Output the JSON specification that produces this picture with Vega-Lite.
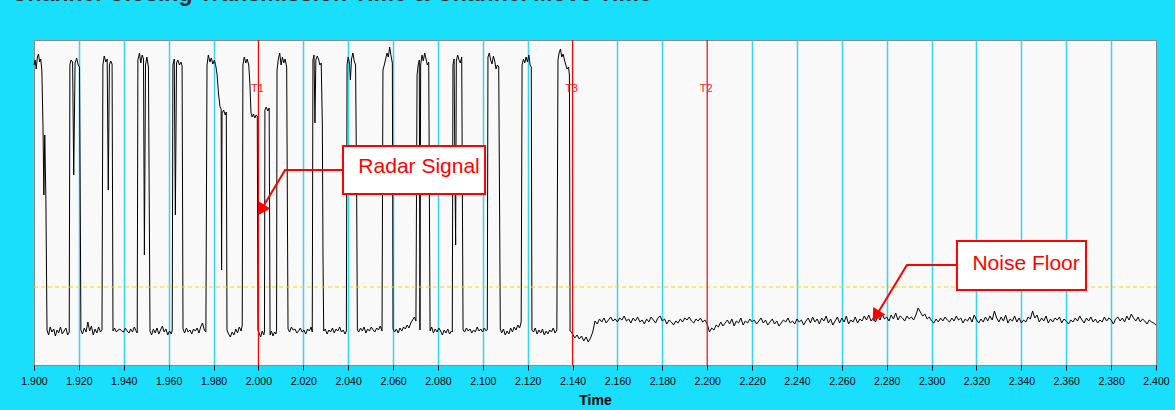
{
"$schema":"https://vega.github.io/schema/vega-lite/v6.json",
"width":1122,"height":325,
"autosize":{"type":"none"},
"padding":{"left":34,"top":40,"right":19,"bottom":45},
"background":"#19dffd",
"title":{"text":"Channel Closing Transmission Time & Channel Move Time","anchor":"start","frame":"group","font":"Liberation Sans","fontSize":23,"fontWeight":"bold","color":"#333333","baseline":"alphabetic","offset":15,"dx":-23},
"config":{"view":{"fill":"#f9f9f9","stroke":"#8a8a8a","strokeWidth":1},"font":"Liberation Sans"},
"datasets":{
"signal":[
{"t":1.9000,"v":300},{"t":1.9005,"v":305},{"t":1.9010,"v":296},{"t":1.9015,"v":308},{"t":1.9020,"v":311},{"t":1.9025,"v":303},{"t":1.9030,"v":306},{"t":1.9035,"v":295},{"t":1.9040,"v":240},{"t":1.9044,"v":170},{"t":1.9048,"v":230},{"t":1.9053,"v":165},{"t":1.9058,"v":35},
{"t":1.9065,"v":30},{"t":1.9072,"v":38},{"t":1.9080,"v":33},{"t":1.9088,"v":36},{"t":1.9095,"v":29},{"t":1.9103,"v":35},{"t":1.9110,"v":32},{"t":1.9118,"v":38},{"t":1.9126,"v":31},{"t":1.9134,"v":34},{"t":1.9142,"v":37},{"t":1.9150,"v":30},{"t":1.9157,"v":33},
{"t":1.9160,"v":300},{"t":1.9165,"v":305},{"t":1.9172,"v":303},{"t":1.9177,"v":190},{"t":1.9183,"v":302},{"t":1.9190,"v":307},{"t":1.9197,"v":300},{"t":1.9203,"v":298},{"t":1.9209,"v":35},
{"t":1.9216,"v":31},{"t":1.9224,"v":37},{"t":1.9232,"v":33},{"t":1.9240,"v":43},{"t":1.9248,"v":34},{"t":1.9256,"v":39},{"t":1.9264,"v":30},{"t":1.9272,"v":36},{"t":1.9280,"v":32},{"t":1.9288,"v":38},{"t":1.9296,"v":33},{"t":1.9303,"v":35},
{"t":1.9307,"v":300},{"t":1.9313,"v":309},{"t":1.9320,"v":303},{"t":1.9326,"v":306},{"t":1.9331,"v":175},{"t":1.9336,"v":300},{"t":1.9342,"v":304},{"t":1.9348,"v":301},{"t":1.9352,"v":34},
{"t":1.9359,"v":37},{"t":1.9367,"v":33},{"t":1.9375,"v":35},{"t":1.9383,"v":36},{"t":1.9391,"v":34},{"t":1.9399,"v":33},{"t":1.9407,"v":37},{"t":1.9415,"v":34},{"t":1.9423,"v":32},{"t":1.9431,"v":36},{"t":1.9439,"v":33},{"t":1.9447,"v":38},{"t":1.9455,"v":34},{"t":1.9460,"v":32},
{"t":1.9463,"v":305},{"t":1.9470,"v":312},{"t":1.9476,"v":302},{"t":1.9482,"v":310},{"t":1.9488,"v":306},{"t":1.9492,"v":110},{"t":1.9497,"v":300},{"t":1.9503,"v":308},{"t":1.9510,"v":298},{"t":1.9517,"v":34},
{"t":1.9524,"v":30},{"t":1.9532,"v":36},{"t":1.9540,"v":32},{"t":1.9548,"v":37},{"t":1.9556,"v":31},{"t":1.9564,"v":35},{"t":1.9572,"v":39},{"t":1.9580,"v":33},{"t":1.9588,"v":36},{"t":1.9596,"v":30},{"t":1.9604,"v":34},{"t":1.9612,"v":31},{"t":1.9616,"v":35},
{"t":1.9619,"v":300},{"t":1.9625,"v":306},{"t":1.9630,"v":150},{"t":1.9635,"v":302},{"t":1.9641,"v":305},{"t":1.9648,"v":300},{"t":1.9655,"v":303},{"t":1.9660,"v":299},{"t":1.9664,"v":36},
{"t":1.9671,"v":32},{"t":1.9679,"v":37},{"t":1.9687,"v":33},{"t":1.9695,"v":35},{"t":1.9703,"v":31},{"t":1.9711,"v":36},{"t":1.9719,"v":34},{"t":1.9727,"v":37},{"t":1.9735,"v":32},{"t":1.9743,"v":38},{"t":1.9751,"v":42},{"t":1.9759,"v":35},{"t":1.9766,"v":33},
{"t":1.9771,"v":300},{"t":1.9777,"v":310},{"t":1.9784,"v":303},{"t":1.9790,"v":307},{"t":1.9797,"v":301},{"t":1.9804,"v":305},{"t":1.9811,"v":298},{"t":1.9816,"v":290},{"t":1.9822,"v":272},{"t":1.9829,"v":258},{"t":1.9834,"v":256},{"t":1.9836,"v":95},{"t":1.9838,"v":252},{"t":1.9845,"v":255},{"t":1.9852,"v":250},{"t":1.9857,"v":253},{"t":1.9860,"v":35},
{"t":1.9867,"v":31},{"t":1.9875,"v":28},{"t":1.9883,"v":33},{"t":1.9891,"v":30},{"t":1.9899,"v":36},{"t":1.9907,"v":32},{"t":1.9915,"v":38},{"t":1.9923,"v":34},{"t":1.9928,"v":40},
{"t":1.9931,"v":300},{"t":1.9937,"v":308},{"t":1.9944,"v":302},{"t":1.9950,"v":306},{"t":1.9957,"v":300},{"t":1.9962,"v":282},{"t":1.9967,"v":252},{"t":1.9972,"v":248},{"t":1.9978,"v":251},{"t":1.9984,"v":247},{"t":1.9990,"v":250},{"t":1.9995,"v":249},{"t":1.9998,"v":35},
{"t":2.0003,"v":32},{"t":2.0010,"v":28},{"t":2.0017,"v":34},{"t":2.0024,"v":30},{"t":2.0027,"v":33},
{"t":2.0029,"v":255},{"t":2.0035,"v":258},{"t":2.0042,"v":254},{"t":2.0048,"v":257},{"t":2.0052,"v":30},
{"t":2.0058,"v":34},{"t":2.0065,"v":29},{"t":2.0072,"v":33},{"t":2.0078,"v":31},{"t":2.0081,"v":35},
{"t":2.0083,"v":295},{"t":2.0089,"v":306},{"t":2.0095,"v":312},{"t":2.0101,"v":300},{"t":2.0107,"v":308},{"t":2.0113,"v":302},{"t":2.0119,"v":306},{"t":2.0126,"v":298},{"t":2.0132,"v":36},
{"t":2.0139,"v":33},{"t":2.0147,"v":38},{"t":2.0155,"v":35},{"t":2.0163,"v":36},{"t":2.0171,"v":32},{"t":2.0179,"v":34},{"t":2.0187,"v":37},{"t":2.0195,"v":33},{"t":2.0203,"v":35},{"t":2.0211,"v":31},{"t":2.0219,"v":36},{"t":2.0227,"v":34},{"t":2.0235,"v":38},{"t":2.0240,"v":33},
{"t":2.0243,"v":305},{"t":2.0248,"v":310},{"t":2.0252,"v":242},{"t":2.0256,"v":305},{"t":2.0262,"v":309},{"t":2.0268,"v":306},{"t":2.0274,"v":300},{"t":2.0280,"v":302},{"t":2.0285,"v":240},{"t":2.0288,"v":105},{"t":2.0291,"v":34},
{"t":2.0298,"v":36},{"t":2.0306,"v":31},{"t":2.0314,"v":35},{"t":2.0322,"v":33},{"t":2.0330,"v":37},{"t":2.0338,"v":32},{"t":2.0346,"v":36},{"t":2.0354,"v":34},{"t":2.0362,"v":38},{"t":2.0370,"v":33},{"t":2.0378,"v":35},{"t":2.0386,"v":31},{"t":2.0392,"v":34},
{"t":2.0395,"v":300},{"t":2.0400,"v":308},{"t":2.0406,"v":302},{"t":2.0410,"v":285},{"t":2.0415,"v":306},{"t":2.0421,"v":312},{"t":2.0427,"v":304},{"t":2.0433,"v":300},{"t":2.0438,"v":168},{"t":2.0441,"v":35},
{"t":2.0447,"v":33},{"t":2.0455,"v":37},{"t":2.0463,"v":34},{"t":2.0471,"v":38},{"t":2.0479,"v":32},{"t":2.0487,"v":36},{"t":2.0495,"v":34},{"t":2.0503,"v":38},{"t":2.0511,"v":35},{"t":2.0519,"v":33},{"t":2.0527,"v":37},{"t":2.0535,"v":35},{"t":2.0543,"v":39},{"t":2.0551,"v":34},
{"t":2.0555,"v":295},{"t":2.0561,"v":300},{"t":2.0567,"v":306},{"t":2.0573,"v":312},{"t":2.0579,"v":308},{"t":2.0585,"v":318},{"t":2.0591,"v":309},{"t":2.0597,"v":302},{"t":2.0600,"v":36},
{"t":2.0607,"v":33},{"t":2.0615,"v":36},{"t":2.0623,"v":32},{"t":2.0631,"v":37},{"t":2.0639,"v":34},{"t":2.0647,"v":38},{"t":2.0655,"v":36},{"t":2.0663,"v":40},{"t":2.0671,"v":37},{"t":2.0679,"v":42},{"t":2.0687,"v":45},{"t":2.0695,"v":48},{"t":2.0702,"v":44},
{"t":2.0707,"v":290},{"t":2.0712,"v":300},{"t":2.0717,"v":305},{"t":2.0720,"v":35},{"t":2.0723,"v":300},{"t":2.0729,"v":310},{"t":2.0735,"v":304},{"t":2.0741,"v":312},{"t":2.0747,"v":306},{"t":2.0753,"v":300},{"t":2.0759,"v":303},{"t":2.0765,"v":34},
{"t":2.0772,"v":38},{"t":2.0780,"v":32},{"t":2.0788,"v":36},{"t":2.0796,"v":33},{"t":2.0804,"v":37},{"t":2.0812,"v":34},{"t":2.0820,"v":30},{"t":2.0828,"v":35},{"t":2.0836,"v":32},{"t":2.0844,"v":36},{"t":2.0852,"v":31},{"t":2.0860,"v":34},{"t":2.0864,"v":33},
{"t":2.0867,"v":300},{"t":2.0872,"v":306},{"t":2.0876,"v":190},{"t":2.0879,"v":120},{"t":2.0882,"v":304},{"t":2.0888,"v":310},{"t":2.0894,"v":305},{"t":2.0900,"v":302},{"t":2.0906,"v":308},{"t":2.0912,"v":35},
{"t":2.0919,"v":33},{"t":2.0927,"v":37},{"t":2.0935,"v":34},{"t":2.0943,"v":36},{"t":2.0951,"v":32},{"t":2.0959,"v":35},{"t":2.0967,"v":33},{"t":2.0975,"v":38},{"t":2.0983,"v":34},{"t":2.0991,"v":36},{"t":2.0999,"v":33},{"t":2.1007,"v":37},{"t":2.1015,"v":34},{"t":2.1020,"v":35},
{"t":2.1023,"v":308},{"t":2.1029,"v":312},{"t":2.1035,"v":305},{"t":2.1041,"v":301},{"t":2.1047,"v":309},{"t":2.1053,"v":304},{"t":2.1059,"v":296},{"t":2.1065,"v":300},{"t":2.1071,"v":298},{"t":2.1075,"v":150},{"t":2.1078,"v":36},
{"t":2.1084,"v":32},{"t":2.1092,"v":36},{"t":2.1100,"v":30},{"t":2.1108,"v":34},{"t":2.1116,"v":31},{"t":2.1124,"v":37},{"t":2.1132,"v":33},{"t":2.1140,"v":38},{"t":2.1148,"v":35},{"t":2.1156,"v":40},{"t":2.1164,"v":37},{"t":2.1171,"v":43},
{"t":2.1175,"v":300},{"t":2.1181,"v":306},{"t":2.1187,"v":302},{"t":2.1193,"v":308},{"t":2.1199,"v":303},{"t":2.1205,"v":310},{"t":2.1211,"v":300},{"t":2.1216,"v":298},{"t":2.1219,"v":35},
{"t":2.1226,"v":33},{"t":2.1234,"v":37},{"t":2.1242,"v":31},{"t":2.1250,"v":35},{"t":2.1258,"v":32},{"t":2.1266,"v":36},{"t":2.1274,"v":30},{"t":2.1282,"v":34},{"t":2.1290,"v":31},{"t":2.1298,"v":35},{"t":2.1306,"v":33},{"t":2.1314,"v":37},{"t":2.1322,"v":32},{"t":2.1330,"v":35},
{"t":2.1335,"v":305},{"t":2.1340,"v":312},{"t":2.1346,"v":316},{"t":2.1352,"v":308},{"t":2.1358,"v":311},{"t":2.1364,"v":305},{"t":2.1370,"v":300},{"t":2.1376,"v":296},{"t":2.1382,"v":298},{"t":2.1386,"v":290},{"t":2.1389,"v":34},
{"t":2.1395,"v":33},
{"t":2.140,"v":31},{"t":2.141,"v":27},{"t":2.142,"v":30},{"t":2.143,"v":26},{"t":2.144,"v":29},{"t":2.145,"v":24},{"t":2.146,"v":28},{"t":2.147,"v":23},{"t":2.148,"v":27},{"t":2.149,"v":33},
{"t":2.150,"v":44},{"t":2.151,"v":41},{"t":2.152,"v":46},{"t":2.153,"v":43},{"t":2.154,"v":47},{"t":2.155,"v":42},{"t":2.156,"v":45},{"t":2.157,"v":48},{"t":2.158,"v":44},{"t":2.159,"v":46},
{"t":2.160,"v":43},{"t":2.161,"v":47},{"t":2.162,"v":45},{"t":2.163,"v":49},{"t":2.164,"v":44},{"t":2.165,"v":46},{"t":2.166,"v":42},{"t":2.167,"v":47},{"t":2.168,"v":44},{"t":2.169,"v":48},
{"t":2.170,"v":43},{"t":2.171,"v":45},{"t":2.172,"v":41},{"t":2.173,"v":46},{"t":2.174,"v":43},{"t":2.175,"v":48},{"t":2.176,"v":45},{"t":2.177,"v":42},{"t":2.178,"v":47},{"t":2.179,"v":49},
{"t":2.180,"v":44},{"t":2.181,"v":46},{"t":2.182,"v":41},{"t":2.183,"v":45},{"t":2.184,"v":43},{"t":2.185,"v":40},{"t":2.186,"v":44},{"t":2.187,"v":42},{"t":2.188,"v":46},{"t":2.189,"v":43},
{"t":2.190,"v":47},{"t":2.191,"v":45},{"t":2.192,"v":48},{"t":2.193,"v":44},{"t":2.194,"v":42},{"t":2.195,"v":46},{"t":2.196,"v":44},{"t":2.197,"v":47},{"t":2.198,"v":43},{"t":2.199,"v":45},
{"t":2.200,"v":41},{"t":2.201,"v":33},{"t":2.202,"v":37},{"t":2.203,"v":35},{"t":2.204,"v":40},{"t":2.205,"v":38},{"t":2.206,"v":43},{"t":2.207,"v":39},{"t":2.208,"v":42},{"t":2.209,"v":45},
{"t":2.210,"v":41},{"t":2.211,"v":46},{"t":2.212,"v":39},{"t":2.213,"v":44},{"t":2.214,"v":42},{"t":2.215,"v":47},{"t":2.216,"v":40},{"t":2.217,"v":44},{"t":2.218,"v":42},{"t":2.219,"v":46},
{"t":2.220,"v":43},{"t":2.221,"v":45},{"t":2.222,"v":41},{"t":2.223,"v":44},{"t":2.224,"v":47},{"t":2.225,"v":42},{"t":2.226,"v":45},{"t":2.227,"v":40},{"t":2.228,"v":43},{"t":2.229,"v":46},
{"t":2.230,"v":41},{"t":2.231,"v":44},{"t":2.232,"v":39},{"t":2.233,"v":42},{"t":2.234,"v":45},{"t":2.235,"v":43},{"t":2.236,"v":47},{"t":2.237,"v":42},{"t":2.238,"v":44},{"t":2.239,"v":41},
{"t":2.240,"v":46},{"t":2.241,"v":43},{"t":2.242,"v":45},{"t":2.243,"v":40},{"t":2.244,"v":44},{"t":2.245,"v":47},{"t":2.246,"v":42},{"t":2.247,"v":48},{"t":2.248,"v":43},{"t":2.249,"v":46},
{"t":2.250,"v":41},{"t":2.251,"v":47},{"t":2.252,"v":44},{"t":2.253,"v":49},{"t":2.254,"v":42},{"t":2.255,"v":46},{"t":2.256,"v":40},{"t":2.257,"v":44},{"t":2.258,"v":48},{"t":2.259,"v":42},
{"t":2.260,"v":47},{"t":2.261,"v":43},{"t":2.262,"v":49},{"t":2.263,"v":41},{"t":2.264,"v":45},{"t":2.265,"v":43},{"t":2.266,"v":48},{"t":2.267,"v":42},{"t":2.268,"v":46},{"t":2.269,"v":44},
{"t":2.270,"v":49},{"t":2.271,"v":45},{"t":2.272,"v":50},{"t":2.273,"v":44},{"t":2.274,"v":47},{"t":2.275,"v":43},{"t":2.276,"v":49},{"t":2.277,"v":45},{"t":2.278,"v":51},{"t":2.279,"v":46},
{"t":2.280,"v":48},{"t":2.281,"v":44},{"t":2.282,"v":50},{"t":2.283,"v":46},{"t":2.284,"v":52},{"t":2.285,"v":45},{"t":2.286,"v":49},{"t":2.287,"v":47},{"t":2.288,"v":44},{"t":2.289,"v":49},
{"t":2.290,"v":46},{"t":2.291,"v":48},{"t":2.292,"v":45},{"t":2.293,"v":50},{"t":2.294,"v":57},{"t":2.295,"v":53},{"t":2.296,"v":49},{"t":2.297,"v":51},{"t":2.298,"v":46},{"t":2.299,"v":48},
{"t":2.300,"v":44},{"t":2.301,"v":42},{"t":2.302,"v":46},{"t":2.303,"v":43},{"t":2.304,"v":47},{"t":2.305,"v":44},{"t":2.306,"v":48},{"t":2.307,"v":45},{"t":2.308,"v":43},{"t":2.309,"v":47},
{"t":2.310,"v":44},{"t":2.311,"v":49},{"t":2.312,"v":45},{"t":2.313,"v":47},{"t":2.314,"v":42},{"t":2.315,"v":46},{"t":2.316,"v":44},{"t":2.317,"v":48},{"t":2.318,"v":43},{"t":2.319,"v":50},
{"t":2.320,"v":45},{"t":2.321,"v":42},{"t":2.322,"v":46},{"t":2.323,"v":43},{"t":2.324,"v":48},{"t":2.325,"v":44},{"t":2.326,"v":49},{"t":2.327,"v":45},{"t":2.328,"v":54},{"t":2.329,"v":47},
{"t":2.330,"v":43},{"t":2.331,"v":48},{"t":2.332,"v":44},{"t":2.333,"v":50},{"t":2.334,"v":42},{"t":2.335,"v":46},{"t":2.336,"v":44},{"t":2.337,"v":49},{"t":2.338,"v":43},{"t":2.339,"v":47},
{"t":2.340,"v":42},{"t":2.341,"v":45},{"t":2.342,"v":43},{"t":2.343,"v":48},{"t":2.344,"v":46},{"t":2.345,"v":54},{"t":2.346,"v":47},{"t":2.347,"v":50},{"t":2.348,"v":43},{"t":2.349,"v":47},
{"t":2.350,"v":44},{"t":2.351,"v":49},{"t":2.352,"v":42},{"t":2.353,"v":46},{"t":2.354,"v":43},{"t":2.355,"v":47},{"t":2.356,"v":45},{"t":2.357,"v":48},{"t":2.358,"v":42},{"t":2.359,"v":46},
{"t":2.360,"v":44},{"t":2.361,"v":41},{"t":2.362,"v":45},{"t":2.363,"v":43},{"t":2.364,"v":47},{"t":2.365,"v":44},{"t":2.366,"v":49},{"t":2.367,"v":45},{"t":2.368,"v":42},{"t":2.369,"v":47},
{"t":2.370,"v":44},{"t":2.371,"v":48},{"t":2.372,"v":43},{"t":2.373,"v":46},{"t":2.374,"v":42},{"t":2.375,"v":45},{"t":2.376,"v":43},{"t":2.377,"v":48},{"t":2.378,"v":44},{"t":2.379,"v":47},
{"t":2.380,"v":45},{"t":2.381,"v":41},{"t":2.382,"v":46},{"t":2.383,"v":48},{"t":2.384,"v":44},{"t":2.385,"v":47},{"t":2.386,"v":43},{"t":2.387,"v":49},{"t":2.388,"v":45},{"t":2.389,"v":51},
{"t":2.390,"v":47},{"t":2.391,"v":44},{"t":2.392,"v":48},{"t":2.393,"v":43},{"t":2.394,"v":46},{"t":2.395,"v":44},{"t":2.396,"v":41},{"t":2.397,"v":45},{"t":2.398,"v":43},{"t":2.399,"v":42},{"t":2.400,"v":40}
],
"markers":[{"t":2.0,"label":"T1"},{"t":2.14,"label":"T3"},{"t":2.2,"label":"T2"}],
"boxes":[{"t":2.0377,"t2":2.1010,"v":219,"v2":171},{"t":2.3113,"t2":2.3688,"v":124,"v2":75}],
"boxlabels":[{"t":2.0716,"v":198,"label":"Radar Signal"},{"t":2.3421,"v":101,"label":"Noise Floor"}],
"connectors":[
{"grp":"radar","o":1,"t":2.0377,"v":195},{"grp":"radar","o":2,"t":2.0119,"v":195},{"grp":"radar","o":3,"t":2.0012,"v":155},
{"grp":"noise","o":1,"t":2.3113,"v":100},{"grp":"noise","o":2,"t":2.2890,"v":100},{"grp":"noise","o":3,"t":2.2752,"v":49}
],
"arrows":[{"t":2.0012,"v":155,"a":211},{"t":2.2752,"v":49,"a":212}]
},
"layer":[
{"data":{"name":"signal"},"mark":{"type":"line","color":"#000000","strokeWidth":1},
 "encoding":{
 "x":{"field":"t","type":"quantitative","title":"Time","scale":{"domain":[1.9,2.4],"nice":false,"zero":false},
 "axis":{"values":[1.9,1.92,1.94,1.96,1.98,2.0,2.02,2.04,2.06,2.08,2.1,2.12,2.14,2.16,2.18,2.2,2.22,2.24,2.26,2.28,2.3,2.32,2.34,2.36,2.38,2.4],
 "format":".3f","grid":true,"gridColor":"#38d4f4","gridWidth":1.5,
 "gridOpacity":{"condition":{"test":"datum.value < 1.901 || datum.value > 2.399 || abs(datum.value - 2.0) < 0.001 || abs(datum.value - 2.14) < 0.001 || abs(datum.value - 2.2) < 0.001","value":0},"value":1},
 "domain":false,"ticks":true,"tickColor":"#000000","tickSize":5,"tickWidth":1,
 "labelFont":"Liberation Sans","labelFontSize":10.5,"labelColor":"#000000","labelPadding":6,"labelFlush":false,"labelOverlap":false,
 "titleFont":"Liberation Sans","titleFontSize":14,"titleFontWeight":"bold","titleColor":"#000000","titlePadding":7}},
 "y":{"field":"v","type":"quantitative","scale":{"domain":[0,325],"nice":false,"zero":false},"axis":null}}},
{"data":{"values":[{}]},"mark":{"type":"rule","color":"#e6de00","strokeWidth":1,"strokeDash":[4,3]},
 "encoding":{"x":{"datum":1.9,"type":"quantitative"},"x2":{"datum":2.4},"y":{"datum":78,"type":"quantitative","axis":null}}},
{"data":{"name":"markers"},"mark":{"type":"rule","color":"#ff0000","strokeWidth":1.2},
 "encoding":{"x":{"field":"t","type":"quantitative","title":"Time"},"y":{"datum":0,"type":"quantitative","axis":null},"y2":{"datum":325}}},
{"data":{"name":"markers"},"mark":{"type":"text","color":"#ff2020","fontSize":11,"font":"Liberation Sans","align":"center","baseline":"middle","dx":-1},
 "encoding":{"x":{"field":"t","type":"quantitative","title":"Time"},"y":{"datum":276,"type":"quantitative","axis":null},"text":{"field":"label"}}},
{"data":{"name":"connectors"},"mark":{"type":"line","color":"#ff0000","strokeWidth":2},
 "encoding":{"x":{"field":"t","type":"quantitative","title":"Time"},"y":{"field":"v","type":"quantitative","axis":null},"detail":{"field":"grp"},"order":{"field":"o"}}},
{"data":{"name":"arrows"},"mark":{"type":"point","shape":"triangle-up","filled":true,"color":"#ff0000","size":200,"opacity":1},
 "encoding":{"x":{"field":"t","type":"quantitative","title":"Time"},"y":{"field":"v","type":"quantitative","axis":null},"angle":{"field":"a","type":"quantitative","scale":null}}},
{"data":{"name":"boxes"},"mark":{"type":"rect","fill":"#ffffff","stroke":"#ff0000","strokeWidth":2},
 "encoding":{"x":{"field":"t","type":"quantitative","title":"Time"},"x2":{"field":"t2"},"y":{"field":"v","type":"quantitative","axis":null},"y2":{"field":"v2"}}},
{"data":{"name":"boxlabels"},"mark":{"type":"text","color":"#ff0000","fontSize":21,"font":"Liberation Sans","align":"center","baseline":"middle"},
 "encoding":{"x":{"field":"t","type":"quantitative","title":"Time"},"y":{"field":"v","type":"quantitative","axis":null},"text":{"field":"label"}}}
]
}
